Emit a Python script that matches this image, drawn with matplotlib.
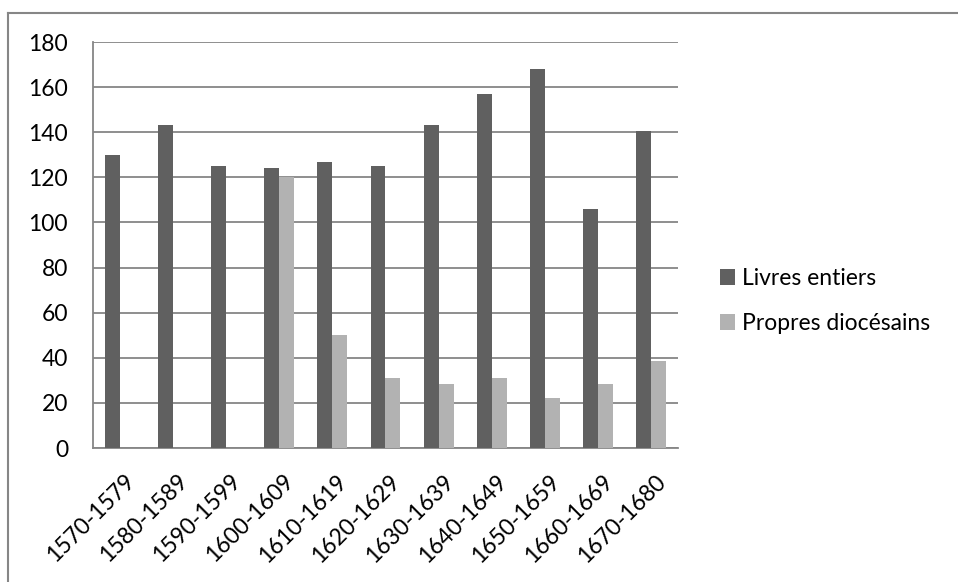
import numpy as np
import matplotlib.pyplot as plt
from matplotlib.lines import Line2D
from matplotlib.transforms import ScaledTranslation

periodes = ["1570-1579", "1580-1589", "1590-1599", "1600-1609", "1610-1619",
            "1620-1629", "1630-1639", "1640-1649", "1650-1659", "1660-1669",
            "1670-1680"]
livres_entiers = [130, 143, 125, 124, 127, 125, 143, 157, 168, 106, 140.5]
propres_diocesains = [0, 0, 0, 120, 50, 31, 28.5, 31, 22, 28.5, 38.5]

plt.rcParams['font.family'] = ['Lato', 'DejaVu Sans']

fig = plt.figure(figsize=(9.58, 5.82), dpi=100)
ax = fig.add_axes([0.0971, 0.2302, 0.6106, 0.6976])

x = np.arange(len(periodes))
w = 0.282
ax.bar(x - w / 2, livres_entiers, w, color="#606060", label="Livres entiers", zorder=3)
ax.bar(x + w / 2, propres_diocesains, w, color="#b2b2b2", label="Propres diocésains", zorder=3)

ax.set_xlim(-0.5, len(periodes) - 0.5)
ax.set_ylim(0, 180)
ax.set_yticks(range(0, 181, 20))
ax.yaxis.grid(True, color="#868686", linewidth=1.3, zorder=0)
ax.set_axisbelow(True)

for s in ["top", "right"]:
    ax.spines[s].set_visible(False)
for s in ["left", "bottom"]:
    ax.spines[s].set_color("#868686")
    ax.spines[s].set_linewidth(1.3)

ax.set_xticks(x)
ax.set_xticklabels(periodes, rotation=45, ha="right", rotation_mode="anchor", fontsize=16.5)
ax.tick_params(axis="x", length=0, pad=12)
ax.tick_params(axis="y", length=0, pad=18, labelsize=16.5)
decal = ScaledTranslation(0.04, -0.06, fig.dpi_scale_trans)
for lab in ax.get_xticklabels():
    lab.set_transform(lab.get_transform() + decal)

leg = fig.legend(loc="center left", bbox_to_anchor=(0.7516, 0.4828), frameon=False,
                 fontsize=16.5, handlelength=0.65, handleheight=0.65,
                 handletextpad=0.3, labelspacing=1.05, borderpad=0, borderaxespad=0)

# cadre extérieur (haut et gauche seulement)
fig.add_artist(Line2D([8 / 958, 8 / 958], [0, 1 - 13 / 582], transform=fig.transFigure,
                      color="#868686", linewidth=1.5))
fig.add_artist(Line2D([8 / 958, 1], [1 - 13 / 582, 1 - 13 / 582], transform=fig.transFigure,
                      color="#868686", linewidth=1.5))

fig.savefig("out.png", dpi=100)
